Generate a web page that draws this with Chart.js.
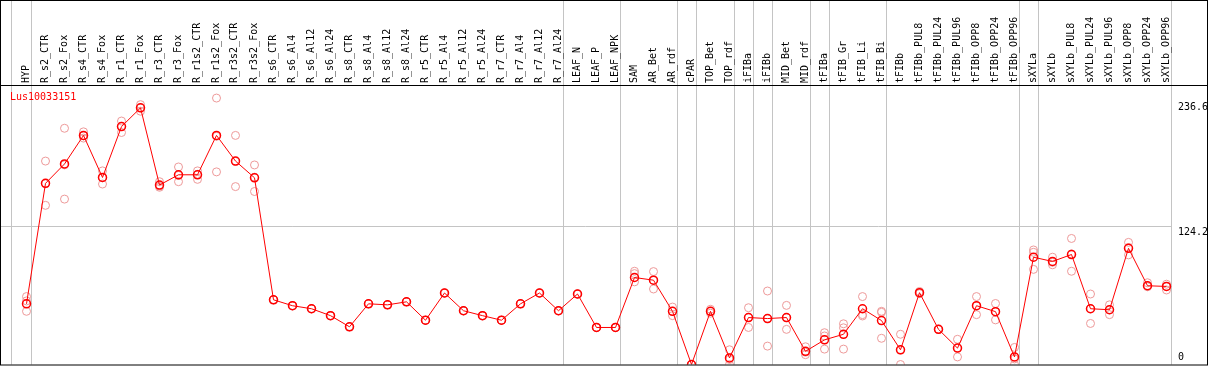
<!DOCTYPE html>
<html>
<head>
<meta charset="utf-8">
<script src="https://cdn.jsdelivr.net/npm/chart.js@4/dist/chart.umd.min.js"></script>
<style>
    html, body { margin: 0; padding: 0; background: #fff; }
    #chart { display: block; }
</style>
</head>
<body>
<canvas id="chart" width="1209" height="370"></canvas>
<script>
// Data
const geneName = 'Lus10033151';

const samples = [
    'HYP', 'R_s2_CTR', 'R_s2_Fox', 'R_s4_CTR', 'R_s4_Fox', 'R_r1_CTR', 'R_r1_Fox', 'R_r3_CTR', 'R_r3_Fox',
    'R_r1s2_CTR', 'R_r1s2_Fox', 'R_r3s2_CTR', 'R_r3s2_Fox', 'R_s6_CTR', 'R_s6_Al4', 'R_s6_Al12', 'R_s6_Al24',
    'R_s8_CTR', 'R_s8_Al4', 'R_s8_Al12', 'R_s8_Al24', 'R_r5_CTR', 'R_r5_Al4', 'R_r5_Al12', 'R_r5_Al24',
    'R_r7_CTR', 'R_r7_Al4', 'R_r7_Al12', 'R_r7_Al24', 'LEAF_N', 'LEAF_P', 'LEAF_NPK', 'SAM', 'AR_Bet', 'AR_rdf',
    'cPAR', 'TOP_Bet', 'TOP_rdf', 'iFIBa', 'iFIBb', 'MID_Bet', 'MID_rdf', 'tFIBa', 'tFIB_Gr', 'tFIB_Li', 'tFIB_Bi',
    'tFIBb', 'tFIBb_PUL8', 'tFIBb_PUL24', 'tFIBb_PUL96', 'tFIBb_OPP8', 'tFIBb_OPP24', 'tFIBb_OPP96',
    'sXYLa', 'sXYLb', 'sXYLb_PUL8', 'sXYLb_PUL24', 'sXYLb_PUL96', 'sXYLb_OPP8', 'sXYLb_OPP24', 'sXYLb_OPP96'
];

const meanValues = [
    54.4, 162.4, 179.8, 205.4, 167.7, 213.3, 230.1, 160.9, 170.1, 170.1, 205.4, 182.4, 167.4,
    58.0, 52.7, 50.0, 43.8, 33.8, 54.4, 53.5, 56.2, 39.7, 64.1, 48.2, 43.8, 39.7, 54.4, 64.1, 48.2,
    63.2, 33.2, 33.2, 78.0, 75.6, 47.7, 0, 47.7, 5.9, 42.1, 41.2, 42.1, 11.8, 22.1, 27.1, 50.0, 39.4,
    13.2, 64.4, 31.5, 14.7, 52.7, 47.4, 6.8, 96.2, 92.4, 98.6, 50.0, 49.1, 104.2, 70.6, 70.0
];

const rep1Values = [
    60.9, 182.4, 211.8, 208.6, 173.6, 218.3, 233.0, 163.9, 177.1, 173.6, 238.9, 205.4, 178.9,
    58.0, 52.7, 50.0, 43.8, 33.8, 54.4, 53.5, 56.2, 39.7, 64.1, 48.2, 43.8, 39.7, 54.4, 64.1, 48.2,
    63.2, 33.2, 33.2, 83.6, 83.3, 51.5, 0, 49.5, 13.2, 50.9, 65.9, 53.0, 15.9, 28.5, 36.5, 60.9, 47.7,
    27.1, 65.5, 31.5, 22.6, 60.9, 54.7, 15.3, 102.7, 96.2, 113.0, 63.2, 53.5, 109.5, 73.3, 72.0
];

const rep2Values = [
    57.0, 162.0, 179.0, 205.0, 167.5, 213.5, 230.0, 160.0, 169.5, 170.5, 204.6, 182.0, 168.0,
    58.0, 52.7, 50.0, 43.8, 33.8, 54.4, 53.5, 56.2, 39.7, 64.1, 48.2, 43.8, 39.7, 54.4, 64.1, 48.2,
    63.2, 33.2, 33.2, 81.5, 75.6, 47.7, 0, 47.7, 4.5, 42.2, 41.2, 42.0, 11.0, 25.6, 32.9, 44.7, 46.8,
    13.0, 64.4, 31.5, 14.7, 52.5, 47.5, 5.0, 100.6, 91.6, 99.2, 50.0, 49.1, 104.8, 70.6, 70.0
];

const rep3Values = [
    47.7, 142.7, 148.3, 203.0, 161.8, 208.0, 227.1, 158.9, 163.9, 166.0, 172.7, 159.5, 155.1,
    58.0, 52.7, 50.0, 43.8, 33.8, 54.4, 53.5, 56.2, 39.7, 64.1, 48.2, 43.8, 39.7, 54.4, 64.1, 48.2,
    63.2, 33.2, 33.2, 74.1, 67.7, 43.8, 0, 46.0, 0, 33.2, 16.5, 31.5, 8.8, 13.8, 13.8, 43.5, 23.5,
    0, 63.5, 31.5, 6.8, 44.7, 40.0, 0, 85.3, 89.4, 83.6, 36.8, 44.7, 98.3, 69.7, 66.8
];

// y ticks shown on the right
const yTicks = [0, 124.2, 236.6];
const yMax = 250.6;

// index of the last sample in each group (separator drawn after it)
const groupEnds = [0, 28, 31, 34, 35, 37, 38, 39, 41, 42, 45, 52, 53, 60];

const monoFont = '10px "DejaVu Sans Mono", monospace';

const framePlugin = {
    id: 'frame',
    beforeDraw(chart) {
        const ctx = chart.ctx;
        ctx.save();
        ctx.fillStyle = '#ffffff';
        ctx.fillRect(0, 0, chart.width, chart.height);
        ctx.restore();
    },
    beforeDatasetsDraw(chart) {
        const ctx = chart.ctx;
        const x = chart.scales.x;
        const y = chart.scales.y;
        const area = chart.chartArea;
        ctx.save();
        ctx.strokeStyle = '#c4c4c4';
        ctx.lineWidth = 1;

        // group separators
        let lastX = 0;
        const startX = Math.round(x.getPixelForValue(0) - 16) + 0.5;
        ctx.beginPath();
        ctx.moveTo(startX, 0);
        ctx.lineTo(startX, area.bottom);
        groupEnds.forEach(i => {
            const px = Math.round(x.getPixelForValue(i) + 4) + 0.5;
            ctx.moveTo(px, 0);
            ctx.lineTo(px, area.bottom);
            lastX = px;
        });
        ctx.stroke();

        // horizontal grid at middle tick
        const gy = Math.round(y.getPixelForValue(yTicks[1])) + 0.5;
        ctx.beginPath();
        ctx.moveTo(0, gy);
        ctx.lineTo(lastX, gy);
        ctx.stroke();

        // sample labels, reading upward from the header line
        ctx.font = monoFont;
        ctx.fillStyle = '#000000';
        ctx.textAlign = 'left';
        ctx.textBaseline = 'middle';
        samples.forEach((s, i) => {
            ctx.save();
            ctx.translate(Math.round(x.getPixelForValue(i)) - 0.5, area.top - 2);
            ctx.rotate(-Math.PI / 2);
            ctx.fillText(s, 0, 0);
            ctx.restore();
        });
        ctx.restore();
    },
    afterDraw(chart) {
        const ctx = chart.ctx;
        const y = chart.scales.y;
        const area = chart.chartArea;
        ctx.save();

        // y tick labels
        ctx.font = monoFont;
        ctx.fillStyle = '#000000';
        ctx.textAlign = 'left';
        ctx.textBaseline = 'top';
        yTicks.forEach(t => {
            const py = Math.min(Math.round(y.getPixelForValue(t)) + 1, area.bottom - 12);
            ctx.fillText(String(t), area.right + 2, py);
        });

        // gene name
        ctx.fillStyle = '#ff0000';
        ctx.textBaseline = 'middle';
        ctx.fillText(geneName, 10, area.top + 12);

        // borders
        ctx.strokeStyle = '#000000';
        ctx.lineWidth = 1;
        ctx.strokeRect(0.5, 0.5, chart.width - 2, area.bottom);
        ctx.beginPath();
        ctx.moveTo(0, area.top + 0.5);
        ctx.lineTo(chart.width - 1, area.top + 0.5);
        ctx.stroke();
        ctx.restore();
    }
};

const repStyle = {
    type: 'line',
    showLine: false,
    pointRadius: 4,
    pointBorderWidth: 1,
    pointBorderColor: '#ee9a9a',
    pointBackgroundColor: 'rgba(0,0,0,0)',
    pointHoverRadius: 4,
    order: 1
};

const chart = new Chart(document.getElementById('chart'), {
    type: 'line',
    data: {
        labels: samples,
        datasets: [
            {
                label: geneName,
                data: meanValues,
                borderColor: '#ff0000',
                borderWidth: 1,
                pointRadius: 4,
                pointBorderWidth: 1.5,
                pointBorderColor: '#ff0000',
                pointBackgroundColor: 'rgba(0,0,0,0)',
                tension: 0,
                order: 0
            },
            Object.assign({ data: rep1Values }, repStyle),
            Object.assign({ data: rep2Values }, repStyle),
            Object.assign({ data: rep3Values }, repStyle)
        ]
    },
    options: {
        responsive: false,
        animation: false,
        devicePixelRatio: 1,
        layout: { padding: { left: 17, right: 0, top: 0, bottom: 1 } },
        plugins: {
            legend: { display: false },
            tooltip: { enabled: false },
            title: { display: false }
        },
        scales: {
            x: {
                type: 'category',
                position: 'top',
                offset: true,
                grid: { display: false, drawTicks: false },
                border: { display: false },
                ticks: { display: false },
                afterFit(scale) { scale.height = 85; }
            },
            y: {
                position: 'right',
                min: 0,
                max: yMax,
                grid: { display: false, drawTicks: false },
                border: { display: false },
                ticks: { display: false },
                afterFit(scale) { scale.width = 33; }
            }
        }
    },
    plugins: [framePlugin]
});
</script>
</body>
</html>
